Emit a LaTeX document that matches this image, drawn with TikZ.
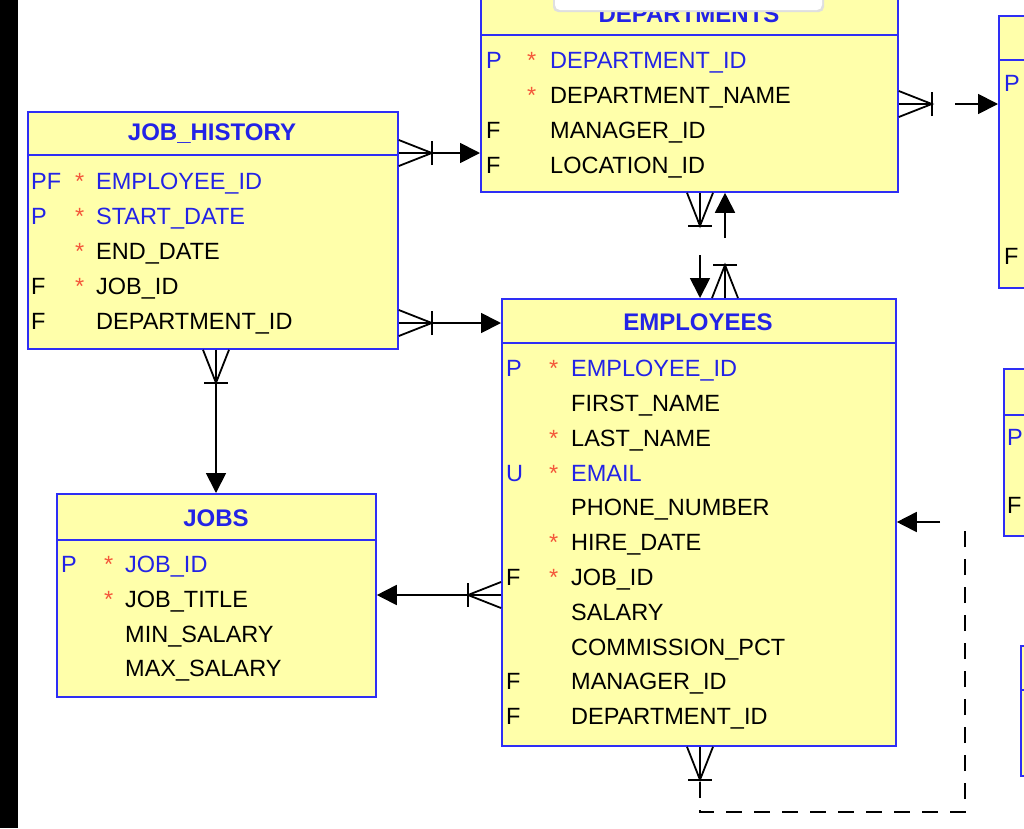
\documentclass[tikz,border=0pt]{standalone}
\usepackage{fontspec}
\setmainfont{Liberation Sans}
\usetikzlibrary{arrows.meta}
\definecolor{tyel}{HTML}{FFFFAA}
\definecolor{tblue}{HTML}{2E2EF5}
\definecolor{kblue}{HTML}{2323E6}
\definecolor{sred}{HTML}{F4573A}
\tikzset{
  tbl/.style={draw=tblue,fill=tyel,line width=1.8pt,inner sep=0pt,anchor=north west},
  hd/.style={text=kblue,font=\fontsize{24}{26}\selectfont\bfseries,inner sep=0pt},
  tx/.style={anchor=base west,inner sep=0pt,font=\fontsize{23.5}{26}\selectfont},
  st/.style={anchor=base west,inner sep=0pt,text=sred,font=\fontsize{23.5}{26}\selectfont},
  con/.style={line width=1.8pt},
  arr/.style={con,-{Triangle[length=20pt,width=20pt]}},
}
% flagx starx namex y flag star name color
\newcommand\erow[8]{%
  \node[tx,text=#8] at (#1,#4) {#5};
  \node[st] at (#2,#4) {#6};
  \node[tx,text=#8] at (#3,#4) {#7};}
\newcommand\crowft[2]{%
  \begin{scope}[shift={#1},rotate=#2]
    \draw[con] (0,13)--(33,0)--(0,-13);
    \draw[con] (0,0)--(33,0);
    \draw[con] (33,12)--(33,-12);
  \end{scope}}
\begin{document}
\begin{tikzpicture}[x=1pt,y=-1pt]
\useasboundingbox (0,0) rectangle (1024,828);
\fill[white] (0,0) rectangle (1024,828);
\fill[black] (0,0) rectangle (18,828);

% right partial tables
\node[tbl,minimum width=60pt,minimum height=272pt] (t1) at (998,15) {};
\draw[tblue,line width=1.8pt] (998,60)--(1030,60);
\node[tx,text=kblue] (t1p) at (1004,91) {P};
\node[tx] (t1f) at (1004,264) {F};
\node[tbl,minimum width=60pt,minimum height=167pt] (t2) at (1003,368) {};
\draw[tblue,line width=1.8pt] (1003,415)--(1030,415);
\node[tx,text=kblue] (t2p) at (1007,445) {P};
\node[tx] (t2f) at (1007,513) {F};
\node[tbl,minimum width=60pt,minimum height=130pt] (t3) at (1020,645) {};
\draw[tblue,line width=1.8pt] (1020,690)--(1030,690);

% DEPARTMENTS
\node[tbl,minimum width=417pt,minimum height=206pt] (dept) at (480,-15) {};
\draw[tblue,line width=1.8pt] (480,35)--(897,35);
\node[hd] (deptt) at (689,14) {DEPARTMENTS};
\erow{486}{527}{550}{68}{P}{*}{DEPARTMENT\_ID}{kblue}
\erow{486}{527}{550}{103}{}{*}{DEPARTMENT\_NAME}{black}
\erow{486}{527}{550}{138}{F}{}{MANAGER\_ID}{black}
\erow{486}{527}{550}{173}{F}{}{LOCATION\_ID}{black}
% tooltip
\fill[gray!25,rounded corners=5pt] (553,-10) rectangle (824,12);
\fill[white,rounded corners=5pt] (555,-10) rectangle (822,10);

% JOB_HISTORY
\node[tbl,minimum width=370pt,minimum height=237pt] (jh) at (27,111) {};
\draw[tblue,line width=1.8pt] (27,155)--(397,155);
\node[hd] (jht) at (212,134) {JOB\_HISTORY};
\erow{31}{75}{96}{189}{PF}{*}{EMPLOYEE\_ID}{kblue}
\erow{31}{75}{96}{224}{P}{*}{START\_DATE}{kblue}
\erow{31}{75}{96}{259}{}{*}{END\_DATE}{black}
\erow{31}{75}{96}{294}{F}{*}{JOB\_ID}{black}
\erow{31}{75}{96}{329}{F}{}{DEPARTMENT\_ID}{black}

% EMPLOYEES
\node[tbl,minimum width=394pt,minimum height=447pt] (emp) at (501,298) {};
\draw[tblue,line width=1.8pt] (501,343)--(895,343);
\node[hd] (empt) at (698,322) {EMPLOYEES};
\erow{506}{549}{571}{376}{P}{*}{EMPLOYEE\_ID}{kblue}
\erow{506}{549}{571}{411}{}{}{FIRST\_NAME}{black}
\erow{506}{549}{571}{446}{}{*}{LAST\_NAME}{black}
\erow{506}{549}{571}{481}{U}{*}{EMAIL}{kblue}
\erow{506}{549}{571}{515}{}{}{PHONE\_NUMBER}{black}
\erow{506}{549}{571}{550}{}{*}{HIRE\_DATE}{black}
\erow{506}{549}{571}{585}{F}{*}{JOB\_ID}{black}
\erow{506}{549}{571}{620}{}{}{SALARY}{black}
\erow{506}{549}{571}{655}{}{}{COMMISSION\_PCT}{black}
\erow{506}{549}{571}{689}{F}{}{MANAGER\_ID}{black}
\erow{506}{549}{571}{724}{F}{}{DEPARTMENT\_ID}{black}

% JOBS
\node[tbl,minimum width=319pt,minimum height=203pt] (jobs) at (56,493) {};
\draw[tblue,line width=1.8pt] (56,540)--(375,540);
\node[hd] (jobst) at (216,518) {JOBS};
\erow{61}{104}{125}{572}{P}{*}{JOB\_ID}{kblue}
\erow{61}{104}{125}{607}{}{*}{JOB\_TITLE}{black}
\erow{61}{104}{125}{642}{}{}{MIN\_SALARY}{black}
\erow{61}{104}{125}{676}{}{}{MAX\_SALARY}{black}

% connectors
\coordinate (a1) at (jh.east|-0,153);   \coordinate (b1) at (dept.west|-0,153);
\crowft{(a1)}{0} \draw[arr] (a1)--(b1);
\coordinate (a2) at (jh.east|-0,323);   \coordinate (b2) at (emp.west|-0,323);
\crowft{(a2)}{0} \draw[arr] (a2)--(b2);
\coordinate (a3) at (216,0|-jh.south);  \coordinate (b3) at (216,0|-jobs.north);
\crowft{(a3)}{270} \draw[arr] (a3)--(b3);
\coordinate (a4) at (emp.west|-0,595);  \coordinate (b4) at (jobs.east|-0,595);
\crowft{(a4)}{180} \draw[arr] (a4)--(b4);
\coordinate (a5) at (dept.east|-0,104); \coordinate (c5) at (955,104); \coordinate (b5) at (t1.west|-0,104);
\crowft{(a5)}{0} \draw[arr] (c5)--(b5);
\coordinate (a6) at (700,0|-dept.south); \coordinate (c6) at (700,255); \coordinate (b6) at (700,0|-emp.north);
\crowft{(a6)}{270} \draw[arr] (c6)--(b6);
\coordinate (a7) at (725,0|-emp.north); \coordinate (c7) at (725,238); \coordinate (b7) at (725,0|-dept.south);
\crowft{(a7)}{90} \draw[arr] (c7)--(b7);
\coordinate (a8) at (700,0|-emp.south); \coordinate (d8) at (700,782);
\coordinate (e8) at (965,812); \coordinate (f8) at (965,522);
\coordinate (c8) at (940,522); \coordinate (b8) at (emp.east|-0,522);
\crowft{(a8)}{270}
\draw[con,dash pattern=on 16pt off 12pt] (d8)--(700,812)--(e8)--(f8);
\draw[arr] (c8)--(b8);
\end{tikzpicture}
\end{document}
